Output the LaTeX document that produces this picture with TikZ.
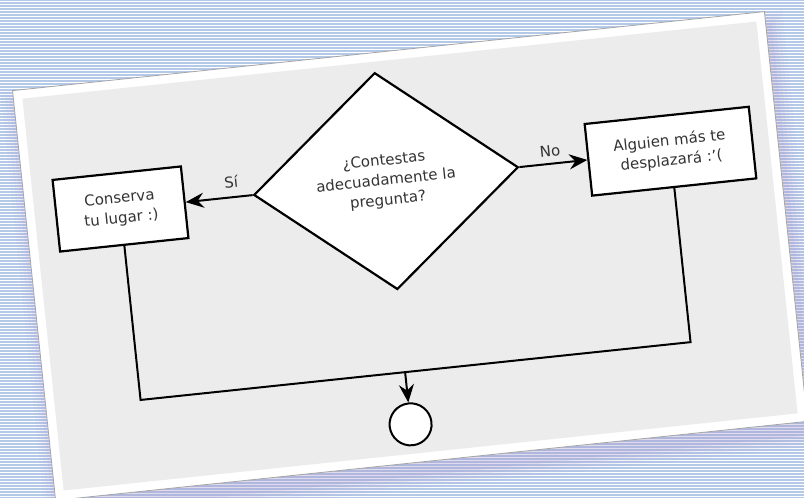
\documentclass[tikz,border=0pt]{standalone}
\usepackage{fontspec}
\setmainfont{DejaVu Sans}
\usetikzlibrary{shapes.geometric,arrows.meta}
\tikzset{>={Stealth[length=18pt,width=15pt,inset=6pt]}}
\definecolor{stripe}{HTML}{B4C8E8}
\definecolor{card}{HTML}{ECECEC}
\definecolor{glow}{HTML}{B0A0D0}
\definecolor{ink}{HTML}{333333}
\tikzset{
  box/.style={draw, line width=2.2pt, fill=white, minimum height=72pt, align=center, inner sep=3pt, text=ink},
  ask/.style={draw, diamond, line width=2.2pt, fill=white, minimum width=266pt, minimum height=218pt, aspect=1.22, align=center, inner sep=0pt, text=ink},
  link/.style={line width=2pt},
  flow/.style={link, ->},
  stop/.style={draw, circle, line width=2pt, fill=white, minimum size=42pt, inner sep=0pt}
}

\begin{document}
\begin{tikzpicture}[x=1pt, y=1pt, font=\fontsize{15}{20}\selectfont]

  \newcommand\CW{378}
  \newcommand\CH{206}
  \newcommand\RowY{77}

  \useasboundingbox (0,0) rectangle (804,498);
  \fill[white] (0,0) rectangle (804,498);
  \foreach \y in {0,3,...,498}
    \draw[stripe, line width=1.3pt] (0,\y) -- (804,\y);

  \begin{scope}[shift={(410,242)}, rotate=6, transform shape]
    % shadow under the card
    \foreach \s/\o in {16/0.07, 12/0.09, 8/0.12, 4/0.16}
      \fill[glow, opacity=\o] (-\CW-\s+4, -\CH-\s-10) rectangle (\CW+\s+2, \CH+\s-16);

    \fill[white, draw=gray!70, line width=0.8pt] (-\CW,-\CH) rectangle (\CW,\CH);
    \fill[card] (-\CW+9,-\CH+9) rectangle (\CW-9,\CH-9);

    \node[ask] (q) at (-16,\RowY) {¿Contestas\\adecuadamente la\\pregunta?};
    \node[box, minimum width=129pt] (si) at (-283,\RowY) {Conserva\\tu lugar :)};
    \node[box, minimum width=165pt] (no) at (270,\RowY) {Alguien más te\\desplazará :'(};
    \node[stop] (fin) at (-17,-167.5) {};

    \coordinate (j1) at (-283,-115);
    \coordinate (j2) at (270,-115);
    \coordinate (join) at (-17,-115);

    \draw[flow] (q) -- node[pos=0.3, above=5pt, text=ink] {Sí} (si);
    \draw[flow] (q) -- node[pos=0.47, above=3pt, text=ink] {No} (no);

    \draw[link] (si) -- (j1) -- (j2) -- (no);
    \draw[flow] (join) -- (fin);
  \end{scope}

\end{tikzpicture}
\end{document}
